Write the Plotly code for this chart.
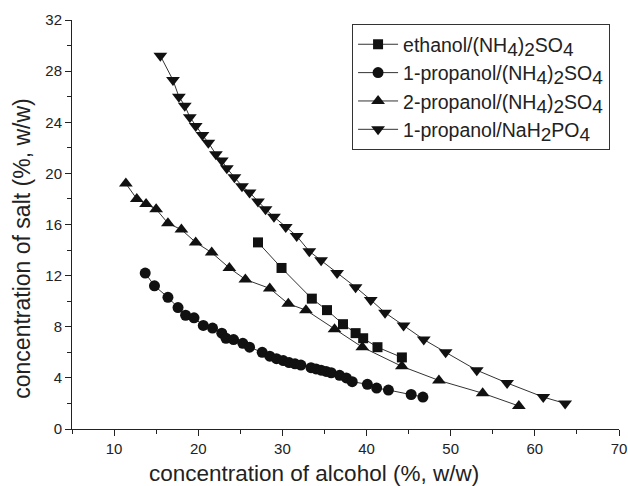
import plotly.graph_objects as go

# ethanol/(NH4)2SO4
eth_x = [27.1, 29.9, 33.5, 35.3, 37.2, 38.7, 39.6, 41.3, 44.2]
eth_y = [14.6, 12.6, 10.2, 9.3, 8.2, 7.5, 7.1, 6.4, 5.6]

# 1-propanol/(NH4)2SO4
p1_x = [13.7, 14.8, 16.4, 17.6, 18.5, 19.5, 20.6, 21.7, 22.8, 23.3, 24.2, 25.3, 26.1,
        27.6, 28.5, 29.3, 30.1, 30.8, 31.5, 32.2, 33.4, 34.0, 34.6, 35.2, 35.8, 36.8,
        37.6, 38.3, 40.1, 41.2, 42.6, 45.3, 46.7]
p1_y = [12.2, 11.2, 10.3, 9.5, 8.9, 8.7, 8.1, 7.9, 7.5, 7.1, 7.0, 6.7, 6.4,
        6.0, 5.7, 5.5, 5.35, 5.2, 5.1, 5.0, 4.8, 4.7, 4.6, 4.5, 4.4, 4.2,
        4.0, 3.7, 3.5, 3.2, 3.05, 2.7, 2.5]

# 2-propanol/(NH4)2SO4
p2_x = [11.4, 12.7, 13.8, 15.0, 16.4, 18.0, 19.7, 21.6, 23.7, 25.6, 28.5, 30.7, 32.8,
        36.2, 39.5, 44.2, 48.6, 53.8, 58.1]
p2_y = [19.2, 18.0, 17.6, 17.2, 16.1, 15.6, 14.6, 13.8, 12.6, 11.7, 11.0, 9.8, 9.3,
        7.8, 6.4, 4.9, 3.8, 2.8, 1.8]

# 1-propanol/NaH2PO4
na_x = [15.5, 17.0, 17.7, 18.4, 19.0, 19.7, 20.5, 21.2, 22.1, 22.8, 23.4, 24.3, 25.2,
        26.1, 27.1, 28.0, 29.0, 30.4, 31.7, 33.2, 34.6, 36.5, 38.7, 40.5, 42.2, 44.4,
        46.8, 49.4, 53.1, 56.7, 61.0, 63.6]
na_y = [29.2, 27.3, 26.0, 25.3, 24.4, 23.7, 23.0, 22.4, 21.5, 21.0, 20.4, 19.7, 19.0,
        18.5, 17.8, 17.2, 16.6, 15.8, 15.1, 13.9, 13.2, 12.2, 11.1, 10.1, 9.1, 8.1,
        7.0, 6.0, 4.6, 3.6, 2.5, 2.0]


def sub(t):
    return '<sub><span style="font-size:19px">' + t + '</span></sub>'


names = ["ethanol/(NH" + sub("4") + ")" + sub("2") + "SO" + sub("4"),
         "1-propanol/(NH" + sub("4") + ")" + sub("2") + "SO" + sub("4"),
         "2-propanol/(NH" + sub("4") + ")" + sub("2") + "SO" + sub("4"),
         "1-propanol/NaH" + sub("2") + "PO" + sub("4")]

series = [(eth_x, eth_y, "square", 10),
          (p1_x, p1_y, "circle", 11),
          (p2_x, p2_y, "triangle-up", 12),
          (na_x, na_y, "triangle-down", 12)]

x_title = "concentration of alcohol (%, w/w)"
y_title = "concentration of salt (%, w/w)"

fig = go.Figure()
for (xs, ys, sym, sz), nm in zip(series, names):
    fig.add_trace(go.Scatter(
        x=xs, y=ys, mode="lines+markers", name=nm,
        line=dict(color="#333333", width=1),
        marker=dict(symbol=sym, size=sz, color="#111111"),
    ))

font_family = "Liberation Sans, Arial, sans-serif"
fig.update_layout(
    width=628, height=486,
    margin=dict(l=72, r=9, t=20, b=57),
    paper_bgcolor="white", plot_bgcolor="white",
    font=dict(family=font_family, color="#222222"),
    showlegend=True,
    legend=dict(
        x=0.512, y=0.99, xanchor="left", yanchor="top",
        bordercolor="#333333", borderwidth=1,
        font=dict(size=19.5, family=font_family, color="#222222"),
        bgcolor="white", tracegroupgap=0, itemwidth=40,
    ),
    xaxis=dict(
        range=[5, 70], tickvals=[10, 20, 30, 40, 50, 60, 70],
        ticks="outside", ticklen=6, tickwidth=1, tickcolor="#222222",
        showline=True, linecolor="#222222", linewidth=1,
        showgrid=False, zeroline=False, automargin=False,
        tickfont=dict(size=15),
        minor=dict(tickvals=[5, 15, 25, 35, 45, 55, 65], ticks="outside", ticklen=4, tickcolor="#222222", showgrid=False),
    ),
    yaxis=dict(
        range=[0, 32], tickvals=[0, 4, 8, 12, 16, 20, 24, 28, 32],
        ticks="outside", ticklen=6, tickwidth=1, tickcolor="#222222",
        showline=True, linecolor="#222222", linewidth=1,
        showgrid=False, zeroline=False, automargin=False,
        tickfont=dict(size=15),
        minor=dict(tickvals=[2, 6, 10, 14, 18, 22, 26, 30], ticks="outside", ticklen=4, tickcolor="#222222", showgrid=False),
    ),
    annotations=[
        dict(text=x_title, xref="paper", yref="paper", x=0.442, y=-0.108,
             xanchor="center", yanchor="middle", showarrow=False,
             font=dict(size=22.5, family=font_family, color="#222222")),
        dict(text=y_title, xref="paper", yref="paper", x=-0.092, y=0.44,
             xanchor="center", yanchor="middle", showarrow=False, textangle=-90,
             font=dict(size=23, family=font_family, color="#222222")),
    ],
)

fig.write_html("out.html")
